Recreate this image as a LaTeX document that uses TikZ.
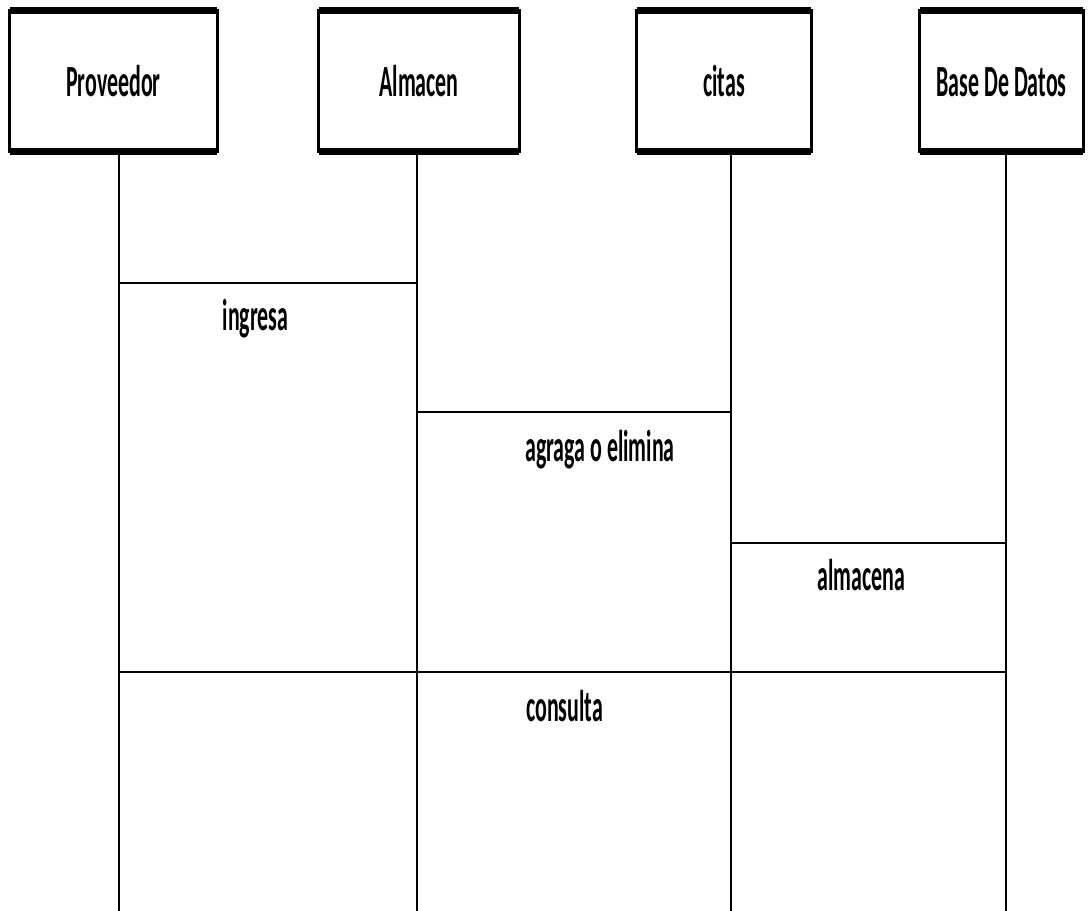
\documentclass[tikz,border=0pt]{standalone}
\usepackage{graphicx}
\usepackage{fontspec}
\setmainfont{Carlito}
\usetikzlibrary{calc}

\newcommand{\tallText}[1]{\scalebox{0.96}[1.95]{#1}}

\begin{document}
\begin{tikzpicture}[
  x=0.02cm, y=-0.02cm,
  font=\fontsize{13pt}{15pt}\selectfont\bfseries,
  actor/.style={draw=black, line width=1.7pt, outer sep=0pt, minimum height=2.82cm,
    inner sep=0pt, text height=0.64cm, text depth=0pt},
  actoredge/.style={draw=black, line width=4pt},
  lifeline/.style={draw=black, line width=0.7pt},
  msg/.style={draw=black, line width=1.3pt},
  msglabel/.style={inner sep=0pt, anchor=base}
]

\useasboundingbox[fill=white] (0,0) rectangle (1090,911);

% Participants.
\node[actor, minimum width=4.16cm] (prov) at (113.5,81) {\tallText{Proveedor}};
\node[actor, minimum width=4.02cm] (alm) at (419,81) {\tallText{Almacen}};
\node[actor, minimum width=3.50cm] (cit) at (724,81) {\tallText{citas}};
\node[actor, minimum width=3.28cm] (bd) at (1001.5,81) {\tallText{Base De Datos}};
\foreach \n in {prov,alm,cit,bd}{
  \draw[actoredge] (\n.north west) -- (\n.north east);
  \draw[actoredge] (\n.south west) -- (\n.south east);
}

% Lifelines.
\coordinate (provEnd) at (119,911);
\coordinate (almEnd) at (417,911);
\coordinate (citEnd) at (731,911);
\coordinate (bdEnd) at (1006,911);
\draw[lifeline] (prov.south -| provEnd) -- (provEnd);
\draw[lifeline] (alm.south -| almEnd) -- (almEnd);
\draw[lifeline] (cit.south -| citEnd) -- (citEnd);
\draw[lifeline] (bd.south -| bdEnd) -- (bdEnd);

% Messages.
\draw[msg] (provEnd |- 0,283) -- (almEnd |- 0,283);
\node[msglabel] (ingresaLabel) at (255.5,331) {\tallText{ingresa}};

\draw[msg] (almEnd |- 0,412) -- (citEnd |- 0,412);
\node[msglabel] (agregaLabel) at (600,462) {\tallText{agraga o elimina}};

\draw[msg] (citEnd |- 0,543) -- (bdEnd |- 0,543);
\node[msglabel] (almacenaLabel) at (861.5,591) {\tallText{almacena}};

\draw[msg] (provEnd |- 0,672) -- (bdEnd |- 0,672);
\node[msglabel] (consultaLabel) at (564.5,722) {\tallText{consulta}};

\end{tikzpicture}
\end{document}
